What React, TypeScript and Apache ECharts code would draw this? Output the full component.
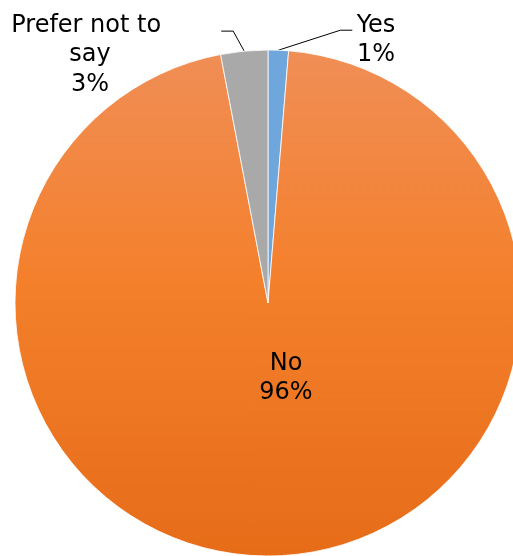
import React, { useEffect, useRef } from "react";
import * as echarts from "echarts";

const categories = ["Yes", "No", "Prefer not to say"];
const values = [1.3, 95.7, 3.0];
const colors = ["#6fa6dc", "orange", "#a9a9a9"];

export default function App() {
  const ref = useRef<HTMLDivElement>(null);
  useEffect(() => {
    if (!ref.current) return;
    const chart = echarts.init(ref.current, null, { renderer: "svg" });
    const orange = new echarts.graphic.LinearGradient(0, 0, 0, 1, [
      { offset: 0, color: "#f08e56" },
      { offset: 0.45, color: "#f4802c" },
      { offset: 1, color: "#e66c18" },
    ]);
    const font = {
      fontFamily: "DejaVu Sans",
      fontSize: 24,
      lineHeight: 29.5,
      color: "#000",
    };
    const data = categories.map((name, i) => {
      const isInside = name === "No";
      return {
        name,
        value: values[i],
        itemStyle: { color: colors[i] === "orange" ? orange : colors[i] },
        label: {
          position: isInside ? "inside" : "outside",
          ...(name === "Prefer not to say" ? { width: 170, overflow: "break" } : {}),
        },
        labelLine: { show: !isInside },
      };
    });
    chart.setOption({
      animation: false,
      series: [
        {
          type: "pie",
          center: [268, 303],
          radius: 253,
          startAngle: 90,
          clockwise: true,
          avoidLabelOverlap: false,
          itemStyle: { borderColor: "#ffffff", borderWidth: 0.8 },
          label: {
            ...font,
            formatter: (p: any) => `${p.name}\n${Math.round(p.percent)}%`,
          },
          labelLine: {
            show: true,
            lineStyle: { color: "#000", width: 1 },
          },
          labelLayout: (p: any) => {
            const pts = p.labelLinePoints;
            if (p.dataIndex === 0 && pts) {
              const s = pts[0];
              const a = [s[0] + 62, s[1] - 20];
              const b = [a[0] + 12, a[1]];
              return {
                x: 376,
                y: 9,
                align: "center",
                verticalAlign: "top",
                labelLinePoints: [s, a, b],
              };
            }
            if (p.dataIndex === 2 && pts) {
              const s = pts[0];
              const a = [s[0] - 11, s[1] - 20];
              const b = [a[0] - 12, a[1]];
              return {
                x: 90,
                y: 9,
                align: "center",
                verticalAlign: "top",
                labelLinePoints: [s, a, b],
              };
            }
            return { x: 286, y: 347, align: "center", verticalAlign: "top" };
          },
          data,
        },
      ],
    });
    return () => chart.dispose();
  }, []);
  return (
    <div
      ref={ref}
      style={{ position: "fixed", left: 0, top: 0, width: 513, height: 556 }}
    />
  );
}
